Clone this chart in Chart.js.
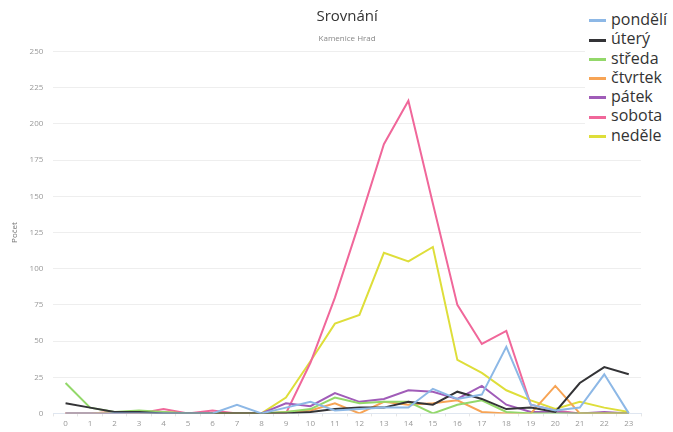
<!DOCTYPE html>
<html>
<head>
<meta charset="utf-8">
<script src="https://cdn.jsdelivr.net/npm/chart.js@4"></script>
<style>
  body { margin: 0; background: #fff; }
  #wrap { position: relative; width: 673px; height: 432px; }
  #legend {
    position: absolute; left: 585px; top: 8px; background: #fff;
    font-family: "Open Sans", sans-serif; font-size: 16px; color: #333;
    padding: 2px 4px; line-height: 19.3px;
  }
  #legend div { white-space: nowrap; }
  #legend span.sw { display: inline-block; width: 17px; height: 3px; margin-right: 5px; vertical-align: middle; }
</style>
</head>
<body>
<div id="wrap">
  <canvas id="chart" width="673" height="432"></canvas>
  <div id="legend"></div>
</div>
<script>
// Hours of the day
const hours = ['0','1','2','3','4','5','6','7','8','9','10','11','12','13','14','15','16','17','18','19','20','21','22','23'];

const dayNames = ['pondělí', 'úterý', 'středa', 'čtvrtek', 'pátek', 'sobota', 'neděle'];
const dayColors = ['#8db8e6', '#333336', '#93d86a', '#f7a455', '#a05cb8', '#f0679a', '#dede3a'];

const pondeli = [0, 0, 0, 0, 0, 0, 0, 6, 0, 4, 8, 2, 3, 4, 4, 17, 10, 13, 46, 6, 2, 4, 27, 0];
const utery   = [7, 4, 1, 1, 0, 0, 0, 0, 0, 0, 1, 3, 4, 4, 8, 6, 15, 10, 3, 4, 1, 21, 32, 27];
const streda  = [21, 4, 1, 2, 1, 0, 0, 0, 0, 1, 3, 11, 7, 8, 8, 0, 6, 9, 1, 0, 0, 0, 0, 0];
const ctvrtek = [0, 0, 1, 0, 1, 0, 0, 0, 0, 1, 2, 7, 0, 8, 6, 7, 9, 1, 0, 0, 19, 0, 0, 0];
const patek   = [0, 0, 0, 0, 0, 0, 0, 0, 0, 7, 5, 14, 8, 10, 16, 15, 10, 19, 6, 1, 1, 0, 1, 0];
const sobota  = [0, 0, 1, 0, 3, 0, 2, 0, 0, 0, 35, 80, 132, 186, 216, 145, 75, 48, 57, 6, 2, 0, 0, 0];
const nedele  = [0, 0, 0, 0, 0, 0, 0, 0, 0, 11, 36, 62, 68, 111, 105, 115, 37, 28, 16, 9, 3, 8, 4, 1];

const allSeries = [pondeli, utery, streda, ctvrtek, patek, sobota, nedele];

const datasets = allSeries.map((vals, i) => ({
  label: dayNames[i],
  data: vals,
  borderColor: dayColors[i],
  backgroundColor: dayColors[i],
  borderWidth: 2,
  pointRadius: 0,
  tension: 0,
  fill: false,
}));

const ctx = document.getElementById('chart');
const chart = new Chart(ctx, {
  type: 'line',
  data: { labels: hours, datasets: datasets },
  options: {
    responsive: false,
    animation: false,
    layout: { padding: { top: 8, right: 32, left: 0, bottom: 0 } },
    plugins: {
      legend: { display: false },
      tooltip: { enabled: false },
      title: {
        display: true,
        fullSize: false,
        text: 'Srovnání',
        color: '#333',
        font: { family: 'Open Sans', size: 15, weight: 'normal' },
        padding: { top: 0, bottom: 8 },
      },
      subtitle: {
        display: true,
        fullSize: false,
        text: 'Kamenice Hrad',
        color: '#888',
        font: { family: 'Open Sans', size: 8 },
        padding: { bottom: 8 },
      },
    },
    scales: {
      x: {
        offset: true,
        grid: { display: true, drawOnChartArea: false, color: '#e6e6e6', tickLength: 3, offset: true },
        border: { color: '#dfe6f0' },
        ticks: { color: '#999', font: { family: 'Open Sans', size: 8 }, maxRotation: 0, autoSkip: false },
      },
      y: {
        min: 0,
        max: 250,
        ticks: { stepSize: 25, color: '#999', font: { family: 'Open Sans', size: 8 }, padding: 10 },
        grid: { color: '#eeeeee', drawTicks: false },
        border: { display: false },
        title: {
          display: true, text: 'Počet', color: '#777',
          font: { family: 'Open Sans', size: 8 },
          padding: { top: 10, bottom: 0 },
        },
      },
    },
  },
});

// HTML legend built from the datasets
const legendEl = document.getElementById('legend');
chart.data.datasets.forEach(ds => {
  const row = document.createElement('div');
  const sw = document.createElement('span');
  sw.className = 'sw';
  sw.style.background = ds.borderColor;
  row.appendChild(sw);
  row.appendChild(document.createTextNode(ds.label));
  legendEl.appendChild(row);
});
</script>
</body>
</html>
